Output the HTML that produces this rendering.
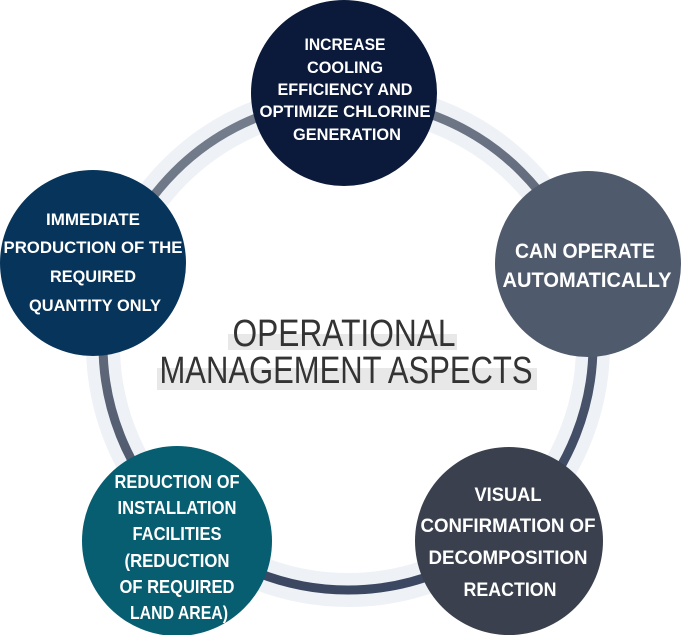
<!DOCTYPE html>
<html><head><meta charset="utf-8"><style>
html,body{margin:0;padding:0;background:#fff;width:682px;height:635px;overflow:hidden}
svg{display:block}
.w{fill:#fff;font-family:"Liberation Sans",sans-serif;font-weight:bold;text-anchor:middle}
.t{fill:#333;font-family:"Liberation Sans",sans-serif;font-weight:normal;text-anchor:middle}
</style></head><body>
<svg width="682" height="635" viewBox="0 0 682 635" xmlns="http://www.w3.org/2000/svg">
<defs>
<linearGradient id="g" x1="0" y1="0" x2="0.3" y2="1">
<stop offset="0" stop-color="#7a8391"/><stop offset="0.5" stop-color="#5e6778"/><stop offset="1" stop-color="#3c4862"/>
</linearGradient>
</defs>
<circle cx="348" cy="345" r="245" fill="none" stroke="#eef2f6" stroke-width="34"/>
<circle cx="348" cy="345" r="245" fill="none" stroke="url(#g)" stroke-width="9"/>
<rect x="228" y="334" width="229" height="16" fill="#e8e8e8"/>
<rect x="157" y="368" width="380" height="22" fill="#e8e8e8"/>
<text class="t" x="344" y="346" font-size="38" textLength="223" lengthAdjust="spacingAndGlyphs">OPERATIONAL</text>
<text class="t" x="346" y="383" font-size="38" textLength="373" lengthAdjust="spacingAndGlyphs">MANAGEMENT ASPECTS</text>

<circle cx="344" cy="93" r="93" fill="#0b1a3a"/>
<g class="w" font-size="17">
<text x="345" y="50" textLength="81" lengthAdjust="spacingAndGlyphs">INCREASE</text>
<text x="345" y="73" textLength="76" lengthAdjust="spacingAndGlyphs">COOLING</text>
<text x="345" y="95" textLength="135" lengthAdjust="spacingAndGlyphs">EFFICIENCY AND</text>
<text x="345" y="117" textLength="171" lengthAdjust="spacingAndGlyphs">OPTIMIZE CHLORINE</text>
<text x="347" y="140" textLength="108" lengthAdjust="spacingAndGlyphs">GENERATION</text>
</g>

<circle cx="93" cy="263" r="93" fill="#07345a"/>
<g class="w" font-size="17">
<text x="93" y="225" textLength="94" lengthAdjust="spacingAndGlyphs">IMMEDIATE</text>
<text x="93" y="253" textLength="179" lengthAdjust="spacingAndGlyphs">PRODUCTION OF THE</text>
<text x="93" y="282" textLength="86" lengthAdjust="spacingAndGlyphs">REQUIRED</text>
<text x="95" y="311" textLength="132" lengthAdjust="spacingAndGlyphs">QUANTITY ONLY</text>
</g>

<circle cx="588" cy="264" r="93" fill="#4f5b6d"/>
<g class="w" font-size="21">
<text x="585" y="258" textLength="140" lengthAdjust="spacingAndGlyphs">CAN OPERATE</text>
<text x="587" y="287" textLength="169" lengthAdjust="spacingAndGlyphs">AUTOMATICALLY</text>
</g>

<circle cx="509" cy="541" r="94" fill="#3a404d"/>
<g class="w" font-size="19">
<text x="508" y="501" textLength="67" lengthAdjust="spacingAndGlyphs">VISUAL</text>
<text x="508" y="532" textLength="175" lengthAdjust="spacingAndGlyphs">CONFIRMATION OF</text>
<text x="508" y="564" textLength="159" lengthAdjust="spacingAndGlyphs">DECOMPOSITION</text>
<text x="510" y="596" textLength="93" lengthAdjust="spacingAndGlyphs">REACTION</text>
</g>

<circle cx="177" cy="541" r="95" fill="#065e70"/>
<g class="w" font-size="18">
<text x="177" y="488" textLength="125" lengthAdjust="spacingAndGlyphs">REDUCTION OF</text>
<text x="177" y="514" textLength="119" lengthAdjust="spacingAndGlyphs">INSTALLATION</text>
<text x="177" y="540" textLength="89" lengthAdjust="spacingAndGlyphs">FACILITIES</text>
<text x="177" y="567" textLength="105" lengthAdjust="spacingAndGlyphs">(REDUCTION</text>
<text x="177" y="593" textLength="115" lengthAdjust="spacingAndGlyphs">OF REQUIRED</text>
<text x="179" y="619" textLength="98" lengthAdjust="spacingAndGlyphs">LAND AREA)</text>
</g>
</svg>
</body></html>
